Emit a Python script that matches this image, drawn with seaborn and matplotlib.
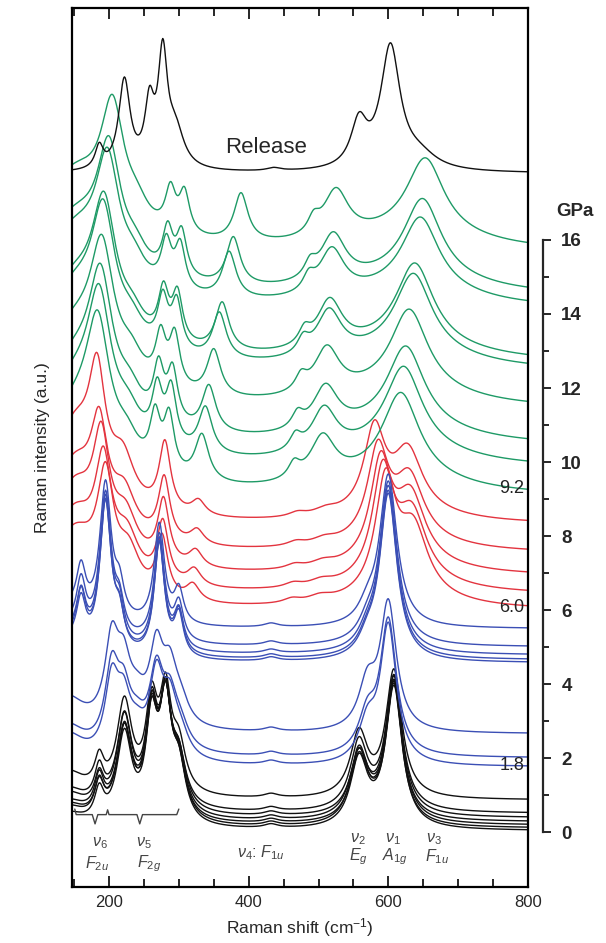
import numpy as np
import matplotlib
matplotlib.use("Agg")
import matplotlib.pyplot as plt
from matplotlib.ticker import MultipleLocator, FixedLocator
import seaborn as sns

sns.set_style("white")
plt.rcParams['font.family'] = ['Liberation Sans', 'DejaVu Sans']
plt.rcParams['mathtext.fontset'] = 'custom'
plt.rcParams['mathtext.rm'] = 'Liberation Sans'
plt.rcParams['mathtext.it'] = 'Liberation Sans:italic'

# ---------------- data ----------------
shift = np.arange(147.0, 800.5, 1.0)          # Raman shift grid, cm-1
x_ticks = [200, 400, 600, 800]
pressure_ticks = [0, 2, 4, 6, 8, 10, 12, 14, 16]
pressure_minor = [1, 3, 5, 7, 9, 11, 13, 15]
pressure_labels = ["0", "2", "4", "6", "8", "10", "12", "14", "16"]

# Release spectrum: peak centres / heights / half-widths
release_offset = 17.8
release_centers = [150, 186, 222, 258, 277, 295, 436, 558, 603, 645]
release_heights = [0.0, 0.6, 2.4, 1.6, 2.9, 1.0, 0.08, 1.2, 3.3, 0.35]
release_widths = [40, 7, 10, 8, 8, 15, 12, 14, 17, 30]

# Black (lowest pressures)
black_offsets = [0.86, 0.50, 0.38, 0.27, 0.18, 0.10, 0.03]
black_centers = [140, 186, 222, 261, 281, 300, 432, 558, 608]
black_widths = [30, 8, 13, 10, 10, 12, 12, 15, 14]
black_heights = [
    [0.7, 0.8, 2.45, 2.3, 2.5, 1.2, 0.1, 1.7, 3.4],
    [0.6, 0.9, 2.4, 2.5, 2.6, 1.2, 0.1, 1.8, 3.6],
    [0.6, 0.8, 2.5, 2.4, 2.7, 1.3, 0.1, 1.6, 3.7],
    [0.5, 0.9, 2.3, 2.6, 2.8, 1.3, 0.1, 1.8, 3.6],
    [0.5, 0.8, 2.4, 2.5, 2.9, 1.3, 0.1, 1.7, 3.8],
    [0.5, 0.9, 2.5, 2.7, 3.0, 1.4, 0.1, 1.9, 3.7],
    [0.4, 0.8, 2.4, 2.6, 3.1, 1.4, 0.1, 1.8, 3.9],
]

# Blue, lower bundle (1.8 - 2.7 GPa)
bluelow_offsets = [2.65, 2.0, 1.76]
bluelow_centers = [140, 204, 221, 240, 268, 287, 302, 432, 570, 600]
bluelow_widths = [30, 12, 12, 15, 12, 12, 15, 12, 15, 14]
bluelow_heights = [
    [0.9, 2.2, 1.4, 0.6, 2.0, 1.3, 0.6, 0.1, 1.2, 3.4],
    [0.8, 2.1, 1.3, 0.6, 2.0, 1.2, 0.6, 0.1, 1.0, 3.6],
    [0.8, 2.0, 1.3, 0.6, 2.1, 1.3, 0.6, 0.1, 1.0, 3.7],
]

# Blue, upper bundle (4.5 - 5.5 GPa)
blueup_offsets = [5.49, 5.0, 4.78, 4.65, 4.57]
blueup_centers = [140, 160, 195, 215, 272, 300, 432, 570, 600]
blueup_widths = [30, 8, 10, 8, 9, 8, 12, 15, 15]
blueup_heights = [
    [0.5, 1.2, 3.7, 0.8, 2.7, 0.9, 0.1, 0.4, 4.1],
    [0.5, 1.3, 3.9, 0.8, 2.9, 1.0, 0.1, 0.4, 4.4],
    [0.5, 1.2, 4.0, 0.9, 3.0, 1.0, 0.1, 0.4, 4.5],
    [0.5, 1.3, 4.0, 0.8, 3.0, 1.1, 0.1, 0.4, 4.5],
    [0.5, 1.2, 4.1, 0.9, 3.1, 1.1, 0.1, 0.4, 4.5],
]

# Red (6.0 - 8.4 GPa)
red_offsets = [8.3, 7.52, 6.9, 6.4, 5.98]
red_widths = [40, 14, 20, 10, 12, 15, 20, 18, 25, 90]
red_centers = [
    [150, 183, 220, 280, 328, 470, 510, 580, 628, 620],
    [150, 186, 222, 279, 326, 468, 508, 585, 630, 620],
    [150, 189, 224, 278, 324, 466, 506, 589, 632, 620],
    [150, 192, 226, 277, 322, 464, 504, 592, 634, 620],
    [150, 195, 228, 276, 320, 462, 502, 596, 636, 620],
]
red_heights = [
    [2.5, 2.85, 1.2, 1.85, 0.4, 0.12, 0.15, 2.2, 1.6, 0.3],
    [2.3, 2.4, 1.1, 1.7, 0.4, 0.12, 0.15, 2.4, 1.65, 0.3],
    [2.3, 2.7, 1.1, 1.7, 0.45, 0.12, 0.15, 2.65, 1.75, 0.3],
    [2.1, 2.7, 1.1, 1.6, 0.45, 0.12, 0.15, 2.9, 1.75, 0.3],
    [2.0, 2.8, 1.1, 1.6, 0.45, 0.12, 0.15, 3.05, 1.75, 0.3],
]

# Green (9.2 - 16 GPa)
green_offsets = [15.65, 14.45, 14.1, 12.65, 12.42, 11.4, 10.4, 9.8, 9.04]
green_widths = [60, 20, 20, 9, 9, 12, 10, 22, 32, 110]
green_centers = [
    [150, 205, 240, 288, 308, 389, 493, 525, 653, 640],
    [150, 200, 238, 284, 304, 378, 488, 521, 649, 636],
    [150, 198, 236, 282, 302, 372, 486, 519, 646, 633],
    [150, 193, 234, 278, 298, 362, 480, 516, 638, 626],
    [150, 192, 233, 277, 297, 358, 478, 515, 636, 624],
    [150, 190, 232, 274, 294, 350, 475, 512, 630, 618],
    [150, 188, 230, 271, 291, 343, 470, 510, 625, 614],
    [150, 186, 228, 269, 289, 338, 467, 508, 622, 611],
    [150, 184, 226, 266, 286, 333, 465, 506, 618, 608],
]
green_heights = [
    [2.0, 3.0, 0.5, 1.1, 1.1, 1.3, 0.4, 1.3, 2.0, 0.5],
    [2.0, 3.0, 0.5, 1.2, 1.2, 1.3, 0.4, 1.3, 2.1, 0.5],
    [2.0, 3.0, 0.5, 1.2, 1.2, 1.25, 0.4, 1.25, 1.95, 0.5],
    [2.1, 3.1, 0.5, 1.3, 1.3, 1.3, 0.4, 1.3, 2.15, 0.5],
    [2.1, 3.1, 0.5, 1.3, 1.3, 1.25, 0.4, 1.25, 2.1, 0.5],
    [2.1, 3.1, 0.6, 1.3, 1.4, 1.25, 0.4, 1.25, 2.15, 0.5],
    [2.2, 3.2, 0.6, 1.4, 1.4, 1.25, 0.4, 1.2, 2.15, 0.5],
    [2.2, 3.2, 0.6, 1.4, 1.5, 1.25, 0.4, 1.2, 2.2, 0.5],
    [2.2, 3.2, 0.6, 1.4, 1.5, 1.25, 0.4, 1.2, 2.25, 0.5],
]

pressure_marks = ["9.2", "6.0", "1.8"]
pressure_mark_y = [9.24, 6.03, 1.76]

# colours
c_black = "#111111"
c_blue = "#3b4fb5"
c_red = "#e3343f"
c_green = "#1e9a66"


def spectrum(offset, centers, heights, widths):
    y = np.full_like(shift, offset, dtype=float)
    for c, h, w in zip(centers, heights, widths):
        y = y + h / (1.0 + ((shift - c) / w) ** 2)
    return y


# ---------------- figure ----------------
W, H = 606, 943
fig = plt.figure(figsize=(W / 100, H / 100), dpi=100)
ax = fig.add_axes([72 / W, 1 - 887 / H, (528 - 72) / W, (887 - 8) / H])

lw = 1.0
for off, hts in zip(black_offsets, black_heights):
    sns.lineplot(x=shift, y=spectrum(off, black_centers, hts, black_widths),
                 ax=ax, color=c_black, lw=lw)
for off, hts in zip(bluelow_offsets, bluelow_heights):
    sns.lineplot(x=shift, y=spectrum(off, bluelow_centers, hts, bluelow_widths),
                 ax=ax, color=c_blue, lw=lw)
for off, cts, hts in zip(red_offsets, red_centers, red_heights):
    sns.lineplot(x=shift, y=spectrum(off, cts, hts, red_widths),
                 ax=ax, color=c_red, lw=lw)
for off, hts in zip(blueup_offsets, blueup_heights):
    sns.lineplot(x=shift, y=spectrum(off, blueup_centers, hts, blueup_widths),
                 ax=ax, color=c_blue, lw=lw)
for off, cts, hts in zip(green_offsets, green_centers, green_heights):
    sns.lineplot(x=shift, y=spectrum(off, cts, hts, green_widths),
                 ax=ax, color=c_green, lw=lw)
sns.lineplot(x=shift, y=spectrum(release_offset, release_centers, release_heights, release_widths),
             ax=ax, color=c_black, lw=lw)

ylo, yhi = -1.486, 22.27
ax.set_xlim(147, 800)
ax.set_ylim(ylo, yhi)

# axes styling
for s in ax.spines.values():
    s.set_linewidth(1.6)
    s.set_color("black")
ax.set_xticks(x_ticks)
ax.xaxis.set_minor_locator(MultipleLocator(50))
ax.tick_params(axis="x", which="major", direction="in", top=True, bottom=True,
               length=8, width=1.4, labelsize=12, pad=6)
ax.tick_params(axis="x", which="minor", direction="in", top=True, bottom=True,
               length=6, width=1.4)
ax.set_yticks([])
ax.set_xlabel("Raman shift (cm$^{-1}$)", fontsize=12.5, labelpad=4)
ax.set_ylabel("Raman intensity (a.u.)", fontsize=12.5, labelpad=16)

# pressure scale on the right
ax2 = ax.twinx()
ax2.set_ylim(ylo, yhi)
for k in ["top", "bottom", "left"]:
    ax2.spines[k].set_visible(False)
ax2.spines["right"].set_position(("outward", 11))
ax2.spines["right"].set_bounds(0, 16)
ax2.spines["right"].set_linewidth(1.6)
ax2.set_yticks(pressure_ticks)
ax2.set_yticklabels(pressure_labels, fontweight="bold", fontsize=13.5)
ax2.yaxis.set_minor_locator(FixedLocator(pressure_minor))
ax2.tick_params(axis="y", which="major", direction="out", length=6, width=1.4, pad=7)
ax2.tick_params(axis="y", which="minor", direction="out", length=4, width=1.4)
fig.text(556 / W, 1 - 212 / H, "GPa", fontsize=13.5, fontweight="bold",
         ha="left", va="center")

# text labels
ax.text(425, 18.5, "Release", fontsize=16, ha="center", va="center")
for lab, yv in zip(pressure_marks, pressure_mark_y):
    ax.text(795, yv + 0.05, lab, fontsize=13, ha="right", va="center", color="#222222")

gray = "#444444"
ann = dict(fontsize=11.5, color=gray, ha="center", va="center")
ax.text(187, -0.30, r"$\nu_6$", **ann)
ax.text(183, -0.85, r"$F_{2u}$", **ann)
ax.text(250, -0.30, r"$\nu_5$", **ann)
ax.text(257, -0.85, r"$F_{2g}$", **ann)
ax.text(417, -0.57, r"$\nu_4$: $F_{1u}$", **ann)
ax.text(556, -0.18, r"$\nu_2$", **ann)
ax.text(557, -0.67, r"$E_g$", **ann)
ax.text(607, -0.18, r"$\nu_1$", **ann)
ax.text(609, -0.67, r"$A_{1g}$", **ann)
ax.text(665, -0.18, r"$\nu_3$", **ann)
ax.text(670, -0.67, r"$F_{1u}$", **ann)

# braces under nu6 / nu5
bx = [151, 153, 176, 180, 184, 196, 198, 200, 240, 244, 248, 297, 300]
by = [0.62, 0.47, 0.47, 0.22, 0.47, 0.47, 0.60, 0.47, 0.47, 0.22, 0.47, 0.47, 0.62]
ax.plot(bx, by, color=gray, lw=1.0)

fig.savefig("out.png", dpi=100)
